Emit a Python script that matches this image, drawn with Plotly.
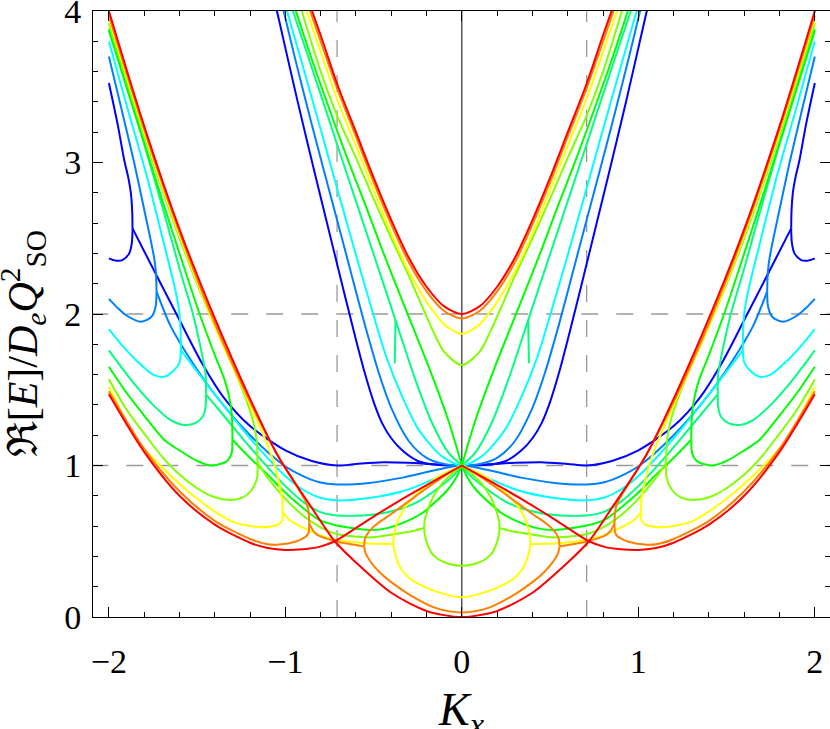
import plotly.graph_objects as go

# Branches for K_x >= 0 as (K_x, Re E) pairs.
# The figure is mirror symmetric in K_x, so the left half is the mirror image.

# blue
blue_u = [(0, 1.0), (0.15, 1.005), (0.25, 1.03), (0.338, 1.1), (0.4, 1.18), (0.452, 1.28), (0.5, 1.42),
          (0.55, 1.61), (0.6, 1.83), (0.707, 2.33), (0.827, 2.9), (0.93, 3.4), (1.04, 3.96), (1.06, 4.06)]
blue_c = [(0, 1.0), (0.15, 1.008), (0.3, 1.018), (0.45, 1.022), (0.6, 1.01), (0.707, 1.0), (0.85, 1.03),
          (1.0, 1.1), (1.2, 1.26), (1.35, 1.45), (1.47, 1.67), (1.6, 1.96), (1.75, 2.3), (1.866, 2.565)]
blue_o = [(1.866, 2.565), (1.868, 2.68), (1.875, 2.795), (1.89, 2.9), (1.913, 3.015), (1.95, 3.25), (2.0, 3.525)]
blue_h = [(1.866, 2.565), (1.87, 2.47), (1.885, 2.4), (1.923, 2.356), (1.96, 2.352), (2.0, 2.367)]

# azure
azure_u = [(0, 1.0), (0.1, 1.01), (0.2, 1.05), (0.3, 1.16), (0.395, 1.367), (0.47, 1.609), (0.55, 1.93),
           (0.65, 2.37), (0.707, 2.62), (0.85, 3.25), (0.95, 3.71), (1.02, 4.05)]
azure_c = [(0, 1.0), (0.147, 0.97), (0.336, 0.92), (0.525, 0.885), (0.707, 0.875), (0.808, 0.89), (0.9, 0.93),
           (1.007, 1.0), (1.2, 1.2), (1.4, 1.47), (1.536, 1.696), (1.65, 1.92), (1.73, 2.15)]
azure_o = [(1.73, 2.15), (1.734, 2.28), (1.745, 2.38), (1.8, 2.69), (1.857, 3.0), (1.93, 3.36), (2.0, 3.7)]
azure_h = [(1.73, 2.15), (1.735, 2.05), (1.76, 1.98), (1.819, 1.949), (1.9, 1.99), (1.95, 2.04), (2.0, 2.1)]

# cyan
cyan_u = [(0, 1.0), (0.112, 1.06), (0.244, 1.235), (0.338, 1.455), (0.423, 1.7), (0.5, 1.99), (0.6, 2.39),
          (0.707, 2.83), (0.8, 3.22), (0.9, 3.63), (1.01, 4.08)]
cyan_c = [(0, 1.0), (0.147, 0.917), (0.336, 0.83), (0.525, 0.786), (0.707, 0.77), (0.808, 0.789), (0.9, 0.84),
          (1.007, 0.938), (1.2, 1.18), (1.4, 1.47), (1.592, 1.76)]
cyan_o = [(1.592, 1.76), (1.594, 1.9), (1.602, 2.02), (1.62, 2.14), (1.7, 2.52), (1.79, 2.93), (1.9, 3.38), (2.0, 3.8)]
cyan_h = [(1.592, 1.76), (1.6, 1.68), (1.63, 1.63), (1.687, 1.586), (1.75, 1.6), (1.85, 1.7), (1.93, 1.8), (2.0, 1.9)]

# spring green
spring_u = [(0, 1.0), (0.074, 1.081), (0.168, 1.279), (0.263, 1.565), (0.376, 1.96), (0.45, 2.22), (0.55, 2.57),
            (0.65, 2.92), (0.707, 3.12), (0.8, 3.45), (0.9, 3.8), (0.98, 4.08)]
spring_spur = [(0.376, 1.96), (0.378, 1.82), (0.38, 1.675)]
spring_c = [(0, 1.0), (0.05, 0.93), (0.147, 0.84), (0.25, 0.76), (0.336, 0.718), (0.45, 0.685), (0.525, 0.674),
            (0.707, 0.67), (0.808, 0.696), (0.9, 0.76), (1.007, 0.872), (1.2, 1.12), (1.35, 1.33), (1.45, 1.47)]
spring_o = [(1.45, 1.47), (1.452, 1.6), (1.47, 1.72), (1.524, 2.0), (1.6, 2.3), (1.7, 2.72), (1.8, 3.12),
            (1.9, 3.5), (2.0, 3.87)]
spring_h = [(1.45, 1.47), (1.453, 1.38), (1.47, 1.32), (1.51, 1.28), (1.573, 1.268), (1.65, 1.3), (1.75, 1.4),
            (1.85, 1.53), (1.93, 1.65), (2.0, 1.76)]

# green
green_u = [(0, 1.0), (0.04, 1.16), (0.083, 1.32), (0.187, 1.65), (0.338, 2.09), (0.45, 2.42), (0.55, 2.73),
           (0.65, 3.03), (0.75, 3.35), (0.85, 3.68), (0.96, 4.07)]
green_c = [(0, 1.0), (0.034, 0.916), (0.08, 0.84), (0.147, 0.763), (0.22, 0.69), (0.298, 0.64), (0.43, 0.585),
           (0.525, 0.575), (0.707, 0.604), (0.808, 0.641), (0.9, 0.72), (1.007, 0.828), (1.1, 0.94), (1.2, 1.05),
           (1.3, 1.17)]
green_o = [(1.3, 1.17), (1.302, 1.3), (1.31, 1.4), (1.34, 1.55), (1.4, 1.73), (1.486, 2.0), (1.6, 2.4), (1.7, 2.76),
           (1.8, 3.13), (1.9, 3.5), (2.0, 3.88)]
green_h = [(1.3, 1.17), (1.305, 1.08), (1.33, 1.03), (1.37, 1.01), (1.422, 1.0), (1.5, 1.03), (1.6, 1.1),
           (1.687, 1.17), (1.8, 1.33), (1.9, 1.48), (2.0, 1.652)]

# chartreuse
chart_u = [(0, 1.663), (0.1, 1.75), (0.16, 1.88), (0.21, 2.01), (0.3, 2.25), (0.4, 2.5), (0.5, 2.76), (0.6, 3.03),
           (0.707, 3.31), (0.8, 3.6), (0.92, 4.05)]
chart_l = [(0, 0.338), (0.07, 0.35), (0.129, 0.378), (0.17, 0.42), (0.195, 0.48), (0.21, 0.543), (0.214, 0.587)]
chart_m = [(0.214, 0.587), (0.21, 0.64), (0.195, 0.7), (0.166, 0.785), (0.11, 0.883), (0.053, 0.949), (0, 1.0)]
chart_c = [(0.214, 0.587), (0.27, 0.57), (0.337, 0.556), (0.525, 0.525), (0.714, 0.55), (0.808, 0.597), (0.9, 0.67),
           (1.0, 0.78), (1.1, 0.92), (1.158, 1.02)]
chart_o = [(1.158, 1.02), (1.161, 1.15), (1.18, 1.28), (1.22, 1.43), (1.3, 1.66), (1.448, 2.05), (1.6, 2.5),
           (1.8, 3.18), (2.0, 3.92)]
chart_h = [(1.158, 1.02), (1.16, 0.92), (1.19, 0.84), (1.24, 0.79), (1.309, 0.773), (1.4, 0.79), (1.5, 0.85),
           (1.6, 0.94), (1.7, 1.06), (1.78, 1.18), (1.9, 1.37), (2.0, 1.57)]

# yellow
yellow_u = [(0, 1.87), (0.1, 1.93), (0.15, 2.0), (0.2, 2.08), (0.3, 2.28), (0.4, 2.53), (0.5, 2.82), (0.6, 3.11),
            (0.707, 3.42), (0.8, 3.73), (0.9, 4.07)]
yellow_l = [(0, 0.13), (0.147, 0.169), (0.24, 0.215), (0.298, 0.257), (0.34, 0.31), (0.365, 0.367), (0.38, 0.425),
            (0.389, 0.481)]
yellow_m = [(0.389, 0.481), (0.385, 0.54), (0.365, 0.63), (0.33, 0.71), (0.28, 0.784), (0.21, 0.855),
            (0.147, 0.917), (0.07, 0.965), (0, 1.0)]
yellow_c = [(0.389, 0.481), (0.45, 0.483), (0.525, 0.485), (0.707, 0.51), (0.808, 0.54), (0.9, 0.59),
            (0.97, 0.635), (1.015, 0.69)]
yellow_o = [(1.015, 0.69), (1.018, 0.78), (1.035, 0.88), (1.06, 1.0), (1.1, 1.13), (1.2, 1.4), (1.4, 1.92),
            (1.6, 2.52), (1.8, 3.2), (2.0, 3.95)]
yellow_h = [(1.015, 0.69), (1.018, 0.64), (1.04, 0.61), (1.08, 0.598), (1.148, 0.593), (1.3, 0.63), (1.5, 0.78),
            (1.7, 0.99), (1.84, 1.17), (2.0, 1.52)]

# orange
orange_u = [(0, 1.97), (0.1, 2.02), (0.2, 2.15), (0.3, 2.34), (0.4, 2.59), (0.5, 2.87), (0.6, 3.17),
            (0.707, 3.49), (0.8, 3.8), (0.88, 4.07)]
orange_l = [(0, 0.03), (0.15, 0.06), (0.3, 0.15), (0.4, 0.23), (0.47, 0.3), (0.52, 0.37), (0.545, 0.42),
            (0.554, 0.466)]
orange_m = [(0.554, 0.466), (0.548, 0.52), (0.525, 0.565), (0.48, 0.615), (0.4, 0.68), (0.3, 0.765), (0.2, 0.85),
            (0.1, 0.93), (0, 1.0)]
orange_c = [(0.554, 0.466), (0.62, 0.478), (0.714, 0.5), (0.808, 0.535), (0.84, 0.565), (0.865, 0.62)]
orange_o = [(0.865, 0.62), (0.868, 0.69), (0.88, 0.75), (0.903, 0.8), (0.95, 0.89), (1.035, 1.05), (1.2, 1.42),
            (1.4, 1.94), (1.6, 2.54), (1.8, 3.22), (2.0, 3.97)]
orange_h = [(0.865, 0.62), (0.868, 0.56), (0.88, 0.535), (0.903, 0.517), (0.94, 0.498), (1.035, 0.478),
            (1.1, 0.48), (1.2, 0.515), (1.4, 0.635), (1.6, 0.83), (1.8, 1.11), (2.0, 1.49)]

# red
red_u = [(0, 2.0), (0.1, 2.05), (0.2, 2.18), (0.3, 2.37), (0.4, 2.62), (0.5, 2.9), (0.6, 3.2), (0.707, 3.52),
         (0.8, 3.84), (0.87, 4.07)]
red_a = [(0, 0.0), (0.2, 0.04), (0.4, 0.16), (0.6, 0.36), (0.72, 0.5), (0.85, 0.72), (1.045, 1.07), (1.2, 1.44),
         (1.41, 2.0), (1.6, 2.56), (1.8, 3.24), (2.0, 4.0)]
red_b = [(0, 1.0), (0.147, 0.905), (0.336, 0.78), (0.525, 0.645), (0.72, 0.5), (0.808, 0.463), (0.9, 0.447),
         (1.0, 0.442), (1.1, 0.455), (1.2, 0.49), (1.4, 0.61), (1.6, 0.8), (1.8, 1.09), (2.0, 1.47)]

series = [
    ('#0000FF', [blue_u, blue_c, blue_o, blue_h]),
    ('#0080FF', [azure_u, azure_c, azure_o, azure_h]),
    ('#00FFFF', [cyan_u, cyan_c, cyan_o, cyan_h]),
    ('#00FF80', [spring_u, spring_spur, spring_c, spring_o, spring_h]),
    ('#00FF00', [green_u, green_c, green_o, green_h]),
    ('#80FF00', [chart_u, chart_l, chart_m, chart_c, chart_o, chart_h]),
    ('#FFFF00', [yellow_u, yellow_l, yellow_m, yellow_c, yellow_o, yellow_h]),
    ('#FF8000', [orange_u, orange_l, orange_m, orange_c, orange_o, orange_h]),
    ('#FF0000', [red_u, red_a, red_b]),
]

# branches that pass smoothly through K_x = 0 (drawn as one path across the centre)
smooth_at_zero = [blue_u, blue_c, azure_u, azure_c, cyan_u, chart_u, chart_l, yellow_u, yellow_l,
                  orange_u, orange_l, red_u, red_a]

dash_x = [-0.7071, 0.7071]
dash_y = [1, 2]

fig = go.Figure()

for color, branches in series:
    xs, ys = [], []
    for br in branches:
        if any(br is s for s in smooth_at_zero):
            xs += [-p[0] for p in reversed(br)] + [p[0] for p in br[1:]] + [None]
            ys += [p[1] for p in reversed(br)] + [p[1] for p in br[1:]] + [None]
        else:
            for sign in (1, -1):
                xs += [sign * p[0] for p in br] + [None]
                ys += [p[1] for p in br] + [None]
    fig.add_trace(go.Scatter(x=xs, y=ys, mode='lines', showlegend=False, hoverinfo='skip',
                             line=dict(color=color, width=2, shape='spline', smoothing=0.8)))

for xv in dash_x:
    fig.add_shape(type='line', x0=xv, x1=xv, y0=0, y1=4, layer='below',
                  line=dict(color='#9a9a9a', width=1.3, dash='17px,18px'))
for yv in dash_y:
    fig.add_shape(type='line', x0=-2.1, x1=2.1, y0=yv, y1=yv, layer='below',
                  line=dict(color='#9a9a9a', width=1.3, dash='17px,18px'))
fig.add_shape(type='line', x0=0, x1=0, y0=0, y1=4, layer='below', line=dict(color='black', width=1))

serif = 'Liberation Serif, Times New Roman, serif'
tick_font = dict(family=serif, size=34, color='black')
axis_common = dict(showgrid=False, zeroline=False, showline=True, linecolor='black', linewidth=1,
                   mirror='ticks', ticks='inside', ticklen=10, tickwidth=1, tickcolor='black',
                   tickfont=tick_font, automargin=False, ticklabeloverflow='allow',
                   minor=dict(ticks='inside', ticklen=5, tickwidth=1, tickcolor='black', dtick=0.2, showgrid=False))

fig.update_layout(
    width=830, height=729,
    margin=dict(l=93, r=0, t=11, b=112),
    paper_bgcolor='white', plot_bgcolor='white',
    xaxis=dict(range=[-2.09, 2.086], tickvals=[-2, -1, 0, 1, 2], ticklabelstandoff=14, **axis_common),
    yaxis=dict(range=[0, 4], tickvals=[0, 1, 2, 3, 4], ticklabelstandoff=4, **axis_common),
    annotations=[
        dict(text='<i>K</i><sub><i>x</i></sub>', xref='paper', yref='paper', x=0.5, y=-0.158,
             xanchor='center', yanchor='middle', showarrow=False,
             font=dict(family=serif, size=46, color='black')),
        dict(text='ℜ[<i>E</i>]/<i>D</i><sub><i>e</i></sub><i>Q</i><sup>2</sup><sub>SO</sub>',
             xref='paper', yref='paper', x=0, xshift=-70, y=0.45, textangle=-90,
             xanchor='center', yanchor='middle', showarrow=False,
             font=dict(family=serif, size=42, color='black')),
    ],
)

# drop the default page margin so the figure sits at the window's top-left corner
fig.write_html("out.html", config={'displayModeBar': False},
               post_script="document.body.style.margin='0';")
